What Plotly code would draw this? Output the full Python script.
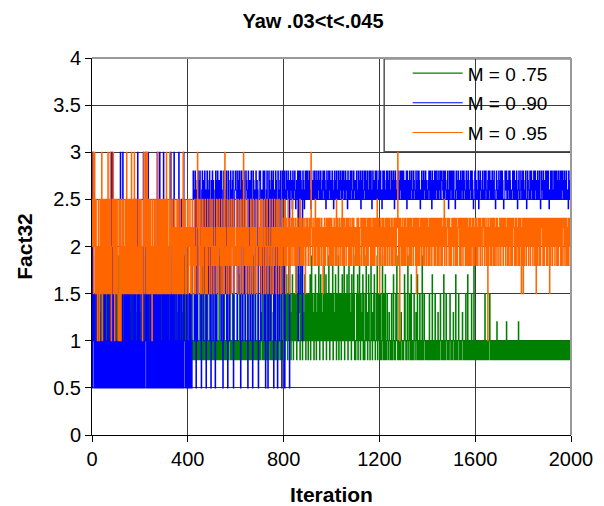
import plotly.graph_objects as go

# ---------------- data ----------------
# Iterations are sampled every 2 steps (0..2000).
ITERATIONS = list(range(0, 2001, 2))

# level codes used in the series strings below
LEVELS = {
    'a': 0.5, 'b': 0.8, 'c': 1.0, 'd': 1.2, 'r': 1.3, 'e': 1.5, 'f': 1.7,
    'p': 1.8, 'g': 1.9, 'h': 2.0, 'i': 2.2, 'j': 2.3, 'q': 2.4, 'k': 2.5,
    'l': 2.6, 'm': 2.7, 'n': 2.8, 'o': 3.0,
}

# one chunk per 100 iterations (50 samples, spaces only for readability)
M075_CODES = [
    "cecrcecgce rceccegcrc ecebcgcerc ecrcegcecr cecgcercec",
    "ecrcgcecer ccecgcerce crcegceccr cecgcercec cecrcgcecr",
    "crecegcrce cgcecrcegc ecrcecegcr cecgcecrce gcercecgce",
    "ecgcrceceb cecgcbrcec rcegcecbcr cecgcebcrc ecgcecrcbc",
    "cbcebcbgcb cbcebcbcfb cbcbcebcbc gbcbcbcebc bfcbcbcecb",
    "cbcbfcbcbe cbcbcgbcbc ebcbcbfcbc becbcbcgcb cbcebcbcbc",
    "bcbecbcbfc bcbcebcbcg bcbcbecbcb fcbcbcgbcb ecbcbcfbcb",
    "cbcrcbecbc bfbcbecbcg cbcbecbcrc bcfbcbecbc gcbcebcbcb",
    "cebrecfcbe cgcerbcefc becrecgbce cfrebcegcb ecrcfebcec",
    "ebcecfbegc ercbecfebc recgcbefce crbegcecfb cercgebcec",
    "cegbecrcfe bcecgbecre bcfcecgbre cefcbegcec rbfcecgebc",
    "bcecfbcegc becrcfbecb cegcrbcfec bcgecbrcef cbcecgbcec",
    "cbecbcgcbe cbfcbcecbc rcbcbecbcf cbcbecgcbc becbcrcbcb",
    "bcfecbcbeg cbcecbfcbc bcecbcrcbf cbcbecbcbg cbcecbcbcb",
    "cbcbecbcbc fbcbcbecbc bcrbcbcecb cbcbfbcbce cbcbcbcecb",
    "bcbcrcbcbf cbcbcecbcb cbcrcbcbcb ecbcfbcbcb cbecbcbgcb",
    "cbcbcbcbcb cbcbcbcbcb ecbcbcbcbc ecbcbcbcbc bcbcbdcbcb",
    "bcbcbcbcbc bcbcbdcbcb cbcbcbcbcb cbcbcbcbcb dcbcbcbcbc",
    "cbcbbcbcbc bcbcbbcbcb cbcbcbbcbc bcbcbcbcbb cbcbcbcbcb",
    "bcbcbcbcbb cbcbcbcbcb cbbcbcbcbc bcbcbcbbcb cbcbcbcbcbc",
]
M090_CODES = [
    "oaoceacaec aeacaaecac aeacahaeca caecaeacao eaocaecaea",
    "acaecaeaco aceaoacaec aeahcaecae acaeacaeca keacaoacea",
    "caeacaeoac aeocaeaoac aeacaeahca ecaeacoaea coaeacaeao",
    "aecahcaeca eacaoaecak aoacaeacae aoeacaekac aoecacaeca",
    "caecaeacah knlkcnmakl cnekmnkcal nkmcenklac nmkelnckam",
    "kncmlekanm cknlhmkenc nlkacnmkel nckanmkcen lkhmnackln",
    "nlkcnmeknl aknmcklnek cnmlkanekm clnkcanmkl ecnkmlhakn",
    "mnckleknmc nkaelnkacn mkclnekmna klcnmkeanl kcmnkeanlk",
    "knaklnkmln kmaknlmkqn klmnkqlmkn clnkenmklc nmkqlnkmnk",
    "nkmknlkqnk mlknknmkln kmlnkmknlk kmnlknmkql nkmknlnkmk",
    "knmkqlnkkm nklknmkknl mknklnmkkn lmkqnkmlkn kmnlkknmlk",
    "mknlkknmkl nqkmnkklnm knlkmnkkln kmnkqlnkmk lnkmnklkmn",
    "kmnklqknmk nlkkmnknlk mnklknmkln kqmnkklmnk nkmlnkknmk",
    "nklmkknqnl kmknkmlnkl knmlkknmkl nknmkqlknm kknlmknkml",
    "kkmnlknkmq nklmknkknl mknkmlnkkn nmlknkmnlk kmnkqlnkmn",
    "lknkmnkkql nmkknlkmkn klmnkknmlk lnkmknlkkm nlknmkqkln",
    "nkmlkknqkm nlkkmnkkln kmnlkkmnkl nlkmknlkmn kkqlnmkkln",
    "kmknlknmkq kknlmnkkml nknmklklnm knlkmknkql mnkklnmkkn",
    "nklkmnkqkn mlkknkmnlk mknkknlmkk nlkmnkqknl mknkmlknkn",
    "kmnkqlknkm nklknkmnkl nkmknlkmnk nlnkmknlkm nklkqnmkln k",
]
M095_CODES = [
    "khoekoheke hcekhcekeh ocekhekhek hekoehkeoh cekhoekchk",
    "ehkecekcek chekhekheh keohekhekh ekoehkehoe khekhehkek",
    "hekehcekoh ekoheokehk ehkehckehe khekeheoek hekhekehke",
    "ekhekoehke heoekhiekh eikehiekhe kiehkeihek oeihkeiehk",
    "keihkpeiek hpiekhepik oeikhpekie hkpeihkepi ekhipekhie",
    "kiphekiphe khpiekhipe kpiehkeoip hekpiehkpi ekhipkeihp",
    "hkpiekhpie khipekohpi kehipkeihp ekhpiekhip eikhpehkip",
    "pikehkipeh kiephkiehp ikhepikhei pkhiepkihe kpiheikpjh",
    "ipkhejpihk pjehipjhkp jihpjeipjh pijhkpjiph jpihjepijh",
    "jpihjpjoih pjihpjkpij hpjipjhipj iheipjhpij hjpijhpjip",
    "jphipjihpj kpjihpjhip jhkpjipjhi pjhjipjhpi jpihjpjihp",
    "ihpjipjhpi ijphjipjhp jihpjipjhj ipjhpijphj pijhjkpjih",
    "ejpihjpijh pijphjipjh jpihjpjiph jipjhpjioj pjcjihpjip",
    "ijphjpihjp ijhpjipjhi pjihjpjeij phjpihjpij hpjipjhjpi",
    "jhpijphjip jhijphjpij hpjipjhjpi jpihjkpjih pjijhpjpih",
    "pjihjpijhp jiphjijphj pijhpjihjp jipjhpijph jpihjpjiph",
    "jipjhpijhj pjihpjijhp jihpjicpji hpjipjhjpi jphijpjhip",
    "ijhpjihjpi jhjpihjpij phjipjhpji jhpijpjihp jipjhjepij",
    "ejpijhpjih jpijhpjihj pijhpjiejp hjipjhpjij hpjipjhjip",
    "jpijhejpij hpjihjpijh pjipjhjipj hpjijphjip jhpijpjihjp",
]

SERIES_NAMES = ["M = 0 .75", "M = 0 .90", "M = 0 .95"]
SERIES_COLORS = ["#008000", "#0000FF", "#FF6600"]
X_TICKS = [0, 400, 800, 1200, 1600, 2000]
Y_TICKS = [0, 0.5, 1, 1.5, 2, 2.5, 3, 3.5, 4]


def decode(chunks):
    return [LEVELS[ch] for ch in "".join(chunks).replace(" ", "")]


series = [decode(M075_CODES), decode(M090_CODES), decode(M095_CODES)]

FONT = "Liberation Sans, Arial, sans-serif"

fig = go.Figure()
for i, (name, color, ys) in enumerate(zip(SERIES_NAMES, SERIES_COLORS, series)):
    n = min(len(ys), len(ITERATIONS))
    fig.add_trace(go.Scatter(
        x=ITERATIONS[:n], y=ys[:n], mode="lines", name=name,
        line=dict(color=color, width=1.1, simplify=False, shape="hv"),
        legendgroup=f"g{i}",
    ))

fig.update_layout(
    width=604, height=506,
    margin=dict(l=84, r=41, t=50, b=79),
    paper_bgcolor="white", plot_bgcolor="white",
    font=dict(family=FONT, size=20, color="black"),
    title=dict(text="<b>Yaw .03<t<.045</b>", x=0.505, xanchor="center",
               y=0.974, yanchor="middle", font=dict(size=20, family=FONT)),
    showlegend=True,
    legend=dict(x=0.659, xanchor="left", y=1.01, yanchor="top",
                bgcolor="rgba(0,0,0,0)", borderwidth=0,
                font=dict(size=19, family=FONT), itemwidth=50,
                tracegroupgap=2, traceorder="grouped"),
    xaxis=dict(range=[0, 2000], tickvals=X_TICKS, ticks="outside", ticklen=6,
               tickcolor="black", showline=True, linecolor="black",
               linewidth=1, showgrid=True, gridcolor="#3a3a3a", gridwidth=1,
               zeroline=False, automargin=False,
               title=dict(text="<b>Iteration</b>", standoff=18,
                          font=dict(size=21, family=FONT))),
    yaxis=dict(range=[0, 4], tickvals=Y_TICKS, ticks="outside", ticklen=6,
               tickcolor="black", showline=True, linecolor="black",
               linewidth=1, showgrid=True, gridcolor="#3a3a3a", gridwidth=1,
               zeroline=False, automargin=False,
               title=dict(text="<b>Fact32</b>", standoff=14,
                          font=dict(size=21, family=FONT))),
    shapes=[
        dict(type="line", xref="paper", yref="paper", x0=0, x1=1, y0=1, y1=1,
             line=dict(color="#999999", width=2)),
        dict(type="line", xref="paper", yref="paper", x0=1, x1=1, y0=0, y1=1,
             line=dict(color="#999999", width=2)),
        dict(type="rect", xref="paper", yref="paper", x0=0.61, x1=1,
             y0=0.751, y1=0.998, fillcolor="white", layer="below",
             line=dict(color="#555555", width=1.5)),
    ],
)

fig.write_html("out.html")
